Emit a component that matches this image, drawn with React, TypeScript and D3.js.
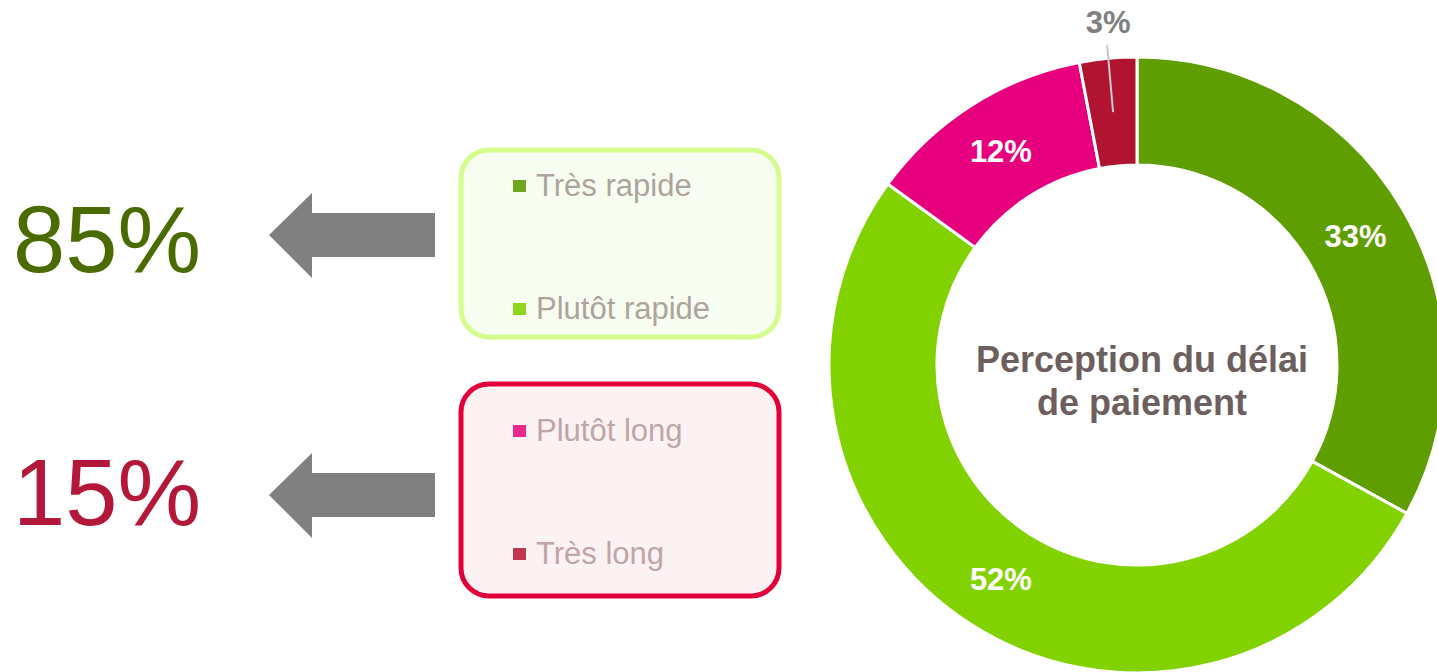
import * as React from 'react';
import * as d3 from 'd3';

const categories = ['Très rapide', 'Plutôt rapide', 'Plutôt long', 'Très long'];
const values = [33, 52, 12, 3];
const sliceColors = ['#5f9e00', '#82d100', '#e6007e', '#b11431'];
const legendColors = ['#6fa51f', '#8fd61c', '#e8288a', '#c0354f'];
const groups = [
  { members: [0, 1], color: '#4a6b00', box: '#d6fc8f', fill: '#f8fdf1', text: '#aca49b' },
  { members: [2, 3], color: '#b3173a', box: '#e2003a', fill: '#fcf2f3', text: '#bfa5a8' },
];
const title = ['Perception du délai', 'de paiement'];

const W = 1437;
const H = 672;
const font = 'Arial, "Liberation Sans", sans-serif';

export default function App() {
  const cx = 1137;
  const cy = 365;
  const outerR = 308;
  const innerR = 200;

  const pie = d3.pie<number>().sort(null).value(d => d);
  const arcs = pie(values);
  const arc = d3.arc<d3.PieArcDatum<number>>().innerRadius(innerR).outerRadius(outerR);
  const labelArc = d3.arc<d3.PieArcDatum<number>>().innerRadius(innerR).outerRadius(outerR);

  const boxX = 461;
  const boxW = 318;
  const boxes = [
    { y: 150, h: 187, rows: [196, 319] },
    { y: 384, h: 212, rows: [441, 564] },
  ];
  const bigY = [272, 525];
  const arrowY = [235, 495];

  const arrowPath = (y: number) => {
    const p = d3.path();
    p.moveTo(269, y);
    p.lineTo(312, y - 42);
    p.lineTo(312, y - 22);
    p.lineTo(435, y - 22);
    p.lineTo(435, y + 22);
    p.lineTo(312, y + 22);
    p.lineTo(312, y + 43);
    p.closePath();
    return p.toString();
  };

  return (
    <svg width={W} height={H} style={{ position: 'absolute', left: 0, top: 0 }} fontFamily={font}>
      <rect width={W} height={H} fill="#ffffff" />

      {groups.map((g, gi) => {
        const total = d3.sum(g.members, i => values[i]);
        const b = boxes[gi];
        return (
          <g key={gi}>
            <text x={13} y={bigY[gi]} fontSize={94} fill={g.color}>{total}%</text>
            <path d={arrowPath(arrowY[gi])} fill="#808080" />
            <rect x={boxX} y={b.y} width={boxW} height={b.h} rx={28} ry={28}
              fill={g.fill} stroke={g.box} strokeWidth={5} />
            {g.members.map((ci, k) => (
              <g key={ci}>
                <rect x={513} y={b.rows[k] - 16} width={13} height={12} fill={legendColors[ci]} />
                <text x={536} y={b.rows[k]} fontSize={31} fill={g.text}>{categories[ci]}</text>
              </g>
            ))}
          </g>
        );
      })}

      <g transform={`translate(${cx},${cy})`}>
        {arcs.map((a, i) => (
          <path key={i} d={arc(a) || ''} fill={sliceColors[i]} stroke="#ffffff" strokeWidth={3} />
        ))}
        {arcs.map((a, i) => {
          const [lx, ly] = labelArc.centroid(a);
          if (a.data < 5) {
            return (
              <g key={'l' + i}>
                <line x1={lx} y1={ly} x2={lx - 6} y2={-320} stroke="#c8c8c8" strokeWidth={2} />
                <text x={lx - 5} y={-332} textAnchor="middle" fontSize={31} fontWeight="bold" fill="#808080">
                  {a.data}%
                </text>
              </g>
            );
          }
          return (
            <text key={'l' + i} x={lx} y={ly + 11} textAnchor="middle" fontSize={31}
              fontWeight="bold" fill="#ffffff">
              {a.data}%
            </text>
          );
        })}
        {title.map((t, i) => (
          <text key={t} x={5} y={7 + i * 43} textAnchor="middle" fontSize={36}
            fontWeight="bold" fill="#6e5f5f">{t}</text>
        ))}
      </g>
    </svg>
  );
}
